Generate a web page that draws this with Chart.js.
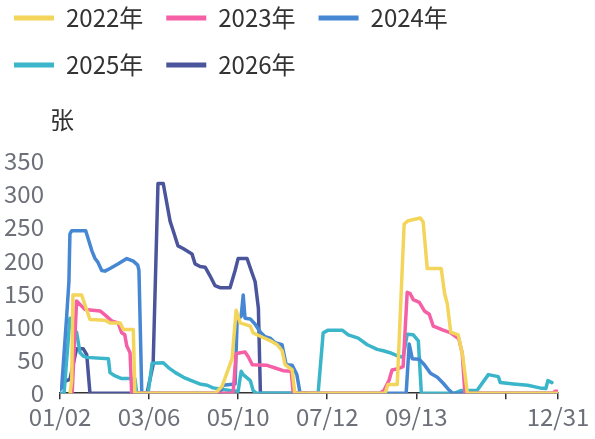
<!DOCTYPE html>
<html>
<head>
<meta charset="utf-8">
<script src="https://cdn.jsdelivr.net/npm/chart.js@4.4.1/dist/chart.umd.min.js"></script>
<style>
  html, body { margin: 0; padding: 0; background: #fff; }
  #wrap { position: relative; width: 595px; height: 439px; }
</style>
</head>
<body>
<div id="wrap"><canvas id="chart"></canvas></div>
<script>
/* warehouse receipts by trading day, one line per year */
const yearNames = ['2022年', '2023年', '2024年', '2025年', '2026年'];
const yUnit = '张';

// x = trading-day index from 01/02, y = count
const tickDays = [0, 44, 88, 132, 176, 220, 246];
const tickLabels = ['01/02', '03/06', '05/10', '07/12', '09/13', '', '12/31'];
const yMax = 350, yStep = 50;

const s2022 = [[5,0],[5.8,20],[6.4,148],[10.7,148],[14.8,111],[22.2,110],[24.7,106],[29.7,106],[31.3,96],[36.2,96],[37,0],
  [76.6,0],[80,10],[85,52],[87,125],[89,106],[94,101],[95.4,91],[100.3,84],[104,79],[107.3,73],[109.7,64],[111.2,43],[114.7,35],[116,0],
  [160.6,0],[162,13],[166.6,13],[170,255],[172,260],[178,264],[179.4,258],[181.4,188],[188.3,188],[190,150],[191.3,135],[193,92],[196.7,88],[199,55],[201.2,0],[246,0]];
const s2023 = [[6,0],[8.2,139],[12.4,126],[19.8,124],[22.2,118],[25.5,109],[28.7,106],[30.5,91],[32,88],[33,71],[34.6,61],[35.4,0],
  [85.5,0],[87,60],[91.4,62],[93,55],[95,43],[102.3,42],[106.3,38],[110.2,34],[114.2,33],[115.2,0],
  [158,0],[160,4],[162.6,20],[164,35],[167,37],[169.5,40],[171.5,152],[173,150],[174.5,141],[177.5,137],[180,124],[182.4,119],[184.4,101],[189.3,95],[193,91],[197,82],[198.7,60],[200,0],
  [243.5,0],[244.5,3],[246,3]];
const s2024 = [[0,5],[0.8,8],[3.3,116],[4.4,168],[4.9,240],[5.8,245],[12.7,245],[14,232],[15.7,215],[17.3,203],[18.6,198],[20.6,185],[22.2,184],[24.7,188],[28.8,195],[33,203],[36.2,199],[38.4,193],[39,185],[40.4,0],
  [79,0],[80.5,12],[86.5,14],[87.5,110],[89.5,116],[90.5,148],[91.4,113],[94,112],[96.4,104],[99,92],[101.3,85],[103.8,83],[106.3,76],[109.7,73],[111.7,43],[114.7,42],[117,28],[118.6,0],
  [171,0],[172.5,74],[174,52],[177.5,51],[180,43],[183,30],[186.4,24],[189.3,15],[191.8,6],[194,0],[246,0]];
const s2025 = [[0,0],[2,0],[4.9,113],[6.6,94],[8.2,92],[9.9,61],[11.5,56],[13.2,54],[23.9,52],[24.7,31],[27.2,26],[30.5,22],[37,22],[37.9,0],
  [43.5,0],[45.5,45],[51,46],[53.4,39],[57,31],[61,24],[64,20],[69,14],[72.7,12],[75.6,8],[84,4],[88,3],[89.5,33],[90.5,28],[94,19],[95.4,4],[97,0],
  [127.5,0],[130,91],[132.5,95],[139.4,95],[142.4,88],[147.3,83],[151.8,73],[156.7,66],[159.7,64],[163,61],[167,56],[169.5,54],[171.5,89],[174.5,88],[177,79],[178.5,0],
  [195,0],[198,4],[206,4],[211.6,28],[216.5,25],[217.5,16],[224,14],[231,12],[237,8],[240,7],[241,19],[243,16]];
const s2026 = [[3.3,19],[4.9,21],[8.2,67],[11.5,67],[13.2,58],[14.8,0],
  [43,0],[46,43],[48.4,316],[51,316],[54.4,259],[56,244],[58.3,222],[60.8,218],[65.2,210],[66.7,195],[69.2,191],[71.7,190],[74.1,177],[76.6,162],[79,159],[84,159],[86.5,185],[88,203],[92.4,203],[95,180],[96.4,168],[98,128],[99,0],[122,0]];

const allSeries = [s2022, s2023, s2024, s2025, s2026];
const colors = ['#f4d55b', '#f45fa5', '#4687d3', '#3bb5ca', '#4b559c'];

const FONT = '"Noto Sans CJK SC", "Noto Sans", sans-serif';

// legend sits tighter to the top-left than Chart.js puts it, and leaves room for the unit
const layoutFix = {
  id: 'layoutFix',
  beforeLayout(chart) {
    const lg = chart.legend;
    if (lg && !lg._fixed) {
      const fit = lg.fit;
      lg.fit = function () { fit.call(this); this.height = 161; };
      lg._fixed = true;
    }
  },
  afterLayout(chart) {
    chart.legend.left = -9;
    chart.legend.top = -17;
  },
  afterDraw(chart) {
    const ctx = chart.ctx, area = chart.chartArea;
    ctx.save();
    ctx.font = '24px ' + FONT;
    ctx.fillStyle = '#333';
    ctx.textAlign = 'center';
    ctx.textBaseline = 'middle';
    ctx.fillText(yUnit, area.left + 2, area.top - 41);
    ctx.restore();
  }
};

const datasets = allSeries.map((s, i) => ({
  label: yearNames[i],
  data: s.map(p => ({ x: p[0], y: p[1] })),
  borderColor: colors[i],
  backgroundColor: colors[i],
  borderWidth: 3.5,
  pointRadius: 0,
  tension: 0,
  fill: false,
  borderJoinStyle: 'round',
  borderCapStyle: 'round'
}));

new Chart(document.getElementById('chart'), {
  type: 'line',
  data: { datasets },
  plugins: [layoutFix],
  options: {
    responsive: true,
    maintainAspectRatio: false,
    animation: false,
    layout: { padding: { left: 0, right: 37, top: 0, bottom: 5 } },
    plugins: {
      tooltip: { enabled: false },
      legend: {
        align: 'start',
        labels: {
          boxWidth: 40,
          boxHeight: 5,
          padding: 23,
          color: '#333',
          font: { size: 24, family: FONT },
          generateLabels: (chart) => Chart.defaults.plugins.legend.labels.generateLabels(chart)
            .map(l => Object.assign(l, { lineWidth: 0 }))
        }
      }
    },
    scales: {
      x: {
        type: 'linear',
        min: tickDays[0],
        max: tickDays[tickDays.length - 1],
        afterBuildTicks: (scale) => { scale.ticks = tickDays.map(v => ({ value: v })); },
        ticks: {
          autoSkip: false,
          maxRotation: 0,
          padding: 3,
          color: '#6e7079',
          font: { size: 24, family: FONT },
          callback: (v) => tickLabels[tickDays.indexOf(v)]
        },
        grid: { drawOnChartArea: false, drawTicks: true, tickLength: 6, color: '#333', lineWidth: 1.5 },
        border: { color: '#333', width: 1.5 }
      },
      y: {
        min: 0,
        max: yMax,
        afterFit: (scale) => { scale.width = 60; },
        ticks: { stepSize: yStep, padding: 16, color: '#6e7079', font: { size: 24, family: FONT } },
        grid: { display: false, drawTicks: false },
        border: { display: false }
      }
    }
  }
});
</script>
</body>
</html>
